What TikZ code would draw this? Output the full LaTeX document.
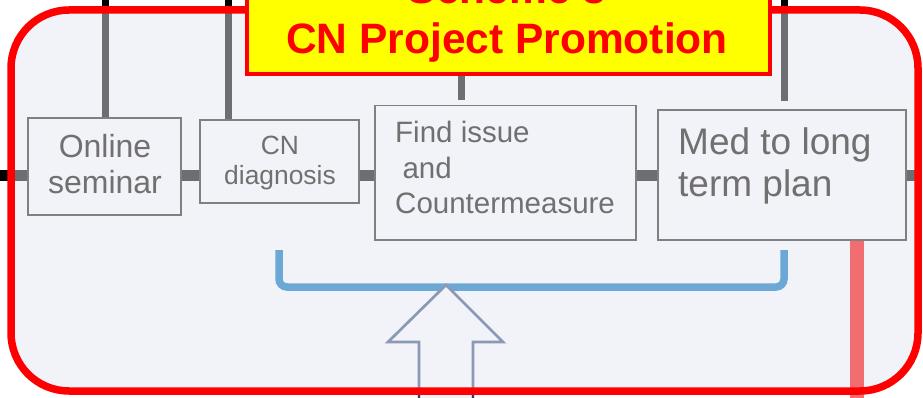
\documentclass[tikz,border=0pt]{standalone}
\usepackage{fontspec}
\setmainfont{Liberation Sans}
\definecolor{bgc}{HTML}{F2F3F8}
\definecolor{linec}{HTML}{6D6E72}
\definecolor{boxc}{HTML}{808080}
\definecolor{txtc}{HTML}{707070}
\definecolor{bluec}{HTML}{6CA8D6}
\definecolor{pinkc}{HTML}{F26D70}
\definecolor{arrc}{HTML}{8B98B6}
\definecolor{navyc}{HTML}{2E3D6B}
\definecolor{redc}{HTML}{FF0000}
\definecolor{yelc}{HTML}{FFFF00}
\pgfdeclarelayer{bglayer}
\pgfdeclarelayer{lineslayer}
\pgfsetlayers{bglayer,lineslayer,main}
\tikzset{
  box/.style={draw=boxc, line width=1.4pt, fill=bgc, inner sep=0pt},
  txtc/.style={text=txtc, inner sep=0pt, align=center},
  txtl/.style={text=txtc, inner sep=0pt, align=left},
  conn/.style={draw=linec, line width=11pt},
  vline/.style={draw=linec, line width=7pt},
  stub/.style={draw=black, line width=7pt},
  bracket/.style={draw=bluec, line width=7.5pt, rounded corners=8pt},
  pinkline/.style={draw=pinkc, line width=14pt},
  hollowarrow/.style={draw=arrc, fill=bgc, line width=2.7pt, line join=miter},
  frame/.style={draw=redc, line width=7.5pt, rounded corners=58pt},
  titlebox/.style={draw=redc, fill=yelc, line width=4pt, inner sep=0pt},
  titletext/.style={text=redc, inner sep=0pt, align=center, font=\fontsize{42.5}{50}\selectfont\bfseries},
}
\begin{document}
\begin{tikzpicture}[x=1pt,y=-1pt]
\useasboundingbox (0,0) rectangle (923,398);
\clip (0,0) rectangle (923,398);

% background fill of frame
\begin{pgfonlayer}{bglayer}
  \fill[bgc, rounded corners=58pt] (11,10) rectangle (918,391);
\end{pgfonlayer}

% boxes
\node[box, minimum width=153pt, minimum height=97pt] (online) at (104.5,166.5) {};
\node[box, minimum width=159pt, minimum height=83pt] (diag) at (279.5,161.5) {};
\node[box, minimum width=261pt, minimum height=134.5pt] (find) at (505.5,172.75) {};
\node[box, minimum width=248pt, minimum height=130pt] (med) at (782,175) {};

% title box
\node[titlebox, minimum width=523pt, minimum height=84pt] (title) at (508.5,32) {};

% coordinates
\coordinate (L) at (0,176);
\coordinate (Lb) at (11,176);
\coordinate (R) at (918,176);
\coordinate (t1) at (105,0);
\coordinate (t1b) at (105,10);
\coordinate (t2) at (228,0);
\coordinate (t2b) at (228,10);
\coordinate (t3) at (461,0);
\coordinate (t4) at (784,0);
\coordinate (t4b) at (784,10);
\coordinate (pk) at (857,398);
\coordinate (bl) at (279,250);
\coordinate (br) at (784,250);
\coordinate (tip) at (446,285);

\begin{pgfonlayer}{lineslayer}
  % black stubs outside the frame
  \draw[stub] (t1) -- (t1b);
  \draw[stub] (t2) -- (t2b);
  \draw[stub] (t4) -- (t4b);
  \draw[stub, line width=11pt] (L) -- (Lb);
  % grey verticals
  \draw[vline] (t1b) -- (t1b |- online.north);
  \draw[vline] (t2b) -- (t2b |- diag.north);
  \draw[vline, shorten >=5pt] (t3 |- title.south) -- (t3 |- find.north);
  \draw[vline, shorten >=8pt] (t4b) -- (t4b |- med.north);
  % main horizontal line
  \draw[conn] (Lb) -- (online.west |- L);
  \draw[conn] (online.east |- L) -- (diag.west |- L);
  \draw[conn] (diag.east |- L) -- (find.west |- L);
  \draw[conn] (find.east |- L) -- (med.west |- L);
  \draw[conn] (med.east |- L) -- (R);
  % pink line
  \draw[pinkline] (pk |- med.south) -- (pk);
  % blue bracket
  \draw[bracket] (bl) -- (279,287) -- (784,287) -- (br);
  % hollow arrow
  \filldraw[hollowarrow] (419,402) -- (419,342) -- (388,342) -- (tip) -- (503,342) -- (473,342) -- (473,402);
\end{pgfonlayer}

% red frame
\draw[frame] (11,10) rectangle (918,391);
\draw[navyc, line width=2.7pt] (419,395) -- (419,402);
\draw[navyc, line width=2.7pt] (473,395) -- (473,402);

% title box on top of frame
\node[titlebox, minimum width=523pt, minimum height=84pt] (title2) at (title) {};
\node[titletext, anchor=south] (ttl) at (507,62.9) {Scheme 3\\CN Project Promotion};

% box texts
\node[txtc, font=\fontsize{32}{36}\selectfont] (tonline) at (105,164.3) {Online\\seminar};
\node[txtc, font=\fontsize{26.4}{30}\selectfont] (tdiag) at (280,163) {CN\\diagnosis};
\node[txtl, anchor=west, font=\fontsize{29.5}{35.5}\selectfont] (tfind) at (395,167.7) {Find issue\\\hspace{0.25em}and\\Countermeasure};
\node[txtl, anchor=west, font=\fontsize{37}{42}\selectfont] (tmed) at (678,166.4) {Med to long\\term plan};
\end{tikzpicture}
\end{document}
